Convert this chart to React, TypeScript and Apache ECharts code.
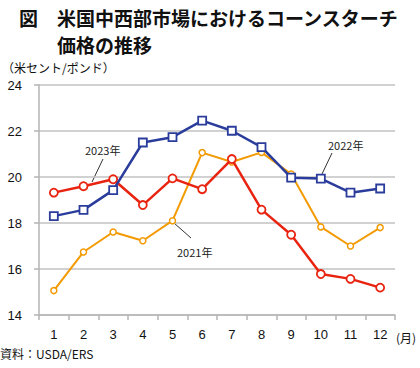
import React, { useEffect, useRef } from "react";
import * as echarts from "echarts";

const months = ["1", "2", "3", "4", "5", "6", "7", "8", "9", "10", "11", "12"];
const y2021 = [15.06, 16.74, 17.61, 17.23, 18.1, 21.06, 20.65, 21.07, 20.13, 17.83, 17.0, 17.8];
const y2022 = [18.3, 18.57, 19.43, 21.5, 21.73, 22.45, 22.01, 21.3, 19.97, 19.93, 19.32, 19.5];
const y2023 = [19.32, 19.6, 19.9, 18.78, 19.94, 19.47, 20.78, 18.58, 17.49, 15.78, 15.57, 15.19];
const yTicks = { min: 14, max: 24, interval: 2 };

const FONT = '"Liberation Sans", "Noto Sans CJK JP", sans-serif';
const CJK = '"Noto Sans CJK JP", "Liberation Sans", sans-serif';
const RED = "#e8230f";
const BLUE = "#2b3d9c";
const ORANGE = "#f39a00";

export default function App() {
  const ref = useRef<HTMLDivElement>(null);
  useEffect(() => {
    if (!ref.current) return;
    const chart = echarts.init(ref.current, null, { renderer: "svg" });
    const lbl = (text: string, x: number, y: number) => ({
      type: "text",
      x,
      y,
      style: { text, font: `11px ${CJK}`, fill: "#222", textVerticalAlign: "middle" },
    });
    const lead = (x1: number, y1: number, x2: number, y2: number) => ({
      type: "line",
      shape: { x1, y1, x2, y2 },
      style: { stroke: "#333", lineWidth: 1 },
    });
    chart.setOption({
      animation: false,
      backgroundColor: "#fff",
      grid: { left: 39, right: 25, top: 85, bottom: 53 },
      xAxis: {
        type: "category",
        data: months,
        boundaryGap: true,
        axisLine: { lineStyle: { color: "#b5b5b5", width: 1.5 } },
        axisTick: { show: true, length: 5, lineStyle: { color: "#b5b5b5", width: 1.5 } },
        axisLabel: { color: "#111", fontSize: 13, fontFamily: FONT, margin: 13 },
        splitLine: { show: false },
      },
      yAxis: {
        type: "value",
        min: yTicks.min,
        max: yTicks.max,
        interval: yTicks.interval,
        axisLine: { show: true, lineStyle: { color: "#b5b5b5", width: 1.5 } },
        axisTick: { show: true, length: 5, lineStyle: { color: "#b5b5b5", width: 1.5 } },
        axisLabel: { color: "#111", fontSize: 13, fontFamily: FONT, margin: 17 },
        splitLine: { show: true, lineStyle: { color: "#c2c2c2", width: 1.5 } },
      },
      series: [
        {
          name: "2021年",
          type: "line",
          data: y2021,
          symbol: "circle",
          symbolSize: 6,
          lineStyle: { color: ORANGE, width: 2 },
          itemStyle: { color: "#fff", borderColor: ORANGE, borderWidth: 1.5 },
          z: 2,
        },
        {
          name: "2023年",
          type: "line",
          data: y2023,
          symbol: "circle",
          symbolSize: 8,
          lineStyle: { color: RED, width: 2.5 },
          itemStyle: { color: "#fff", borderColor: RED, borderWidth: 1.8 },
          z: 3,
        },
        {
          name: "2022年",
          type: "line",
          data: y2022,
          symbol: "rect",
          symbolSize: 8,
          lineStyle: { color: BLUE, width: 2.5 },
          itemStyle: { color: "#fff", borderColor: BLUE, borderWidth: 1.8 },
          z: 4,
        },
      ],
      graphic: [
        {
          type: "text",
          x: 19,
          y: 17,
          style: { text: "図", font: `bold 19px ${CJK}`, fill: "#111", textVerticalAlign: "middle" },
        },
        {
          type: "text",
          x: 57,
          y: 17,
          style: {
            text: "米国中西部市場におけるコーンスターチ",
            font: `bold 19px ${CJK}`,
            fill: "#111",
            textVerticalAlign: "middle",
          },
        },
        {
          type: "text",
          x: 57,
          y: 44,
          style: { text: "価格の推移", font: `bold 19px ${CJK}`, fill: "#111", textVerticalAlign: "middle" },
        },
        {
          type: "text",
          x: 2,
          y: 67,
          style: { text: "（米セント/ポンド）", font: `12px ${CJK}`, fill: "#111", textVerticalAlign: "middle" },
        },
        {
          type: "text",
          x: 396,
          y: 337,
          style: { text: "(月)", font: `12px ${CJK}`, fill: "#111", textVerticalAlign: "middle" },
        },
        {
          type: "text",
          x: 0,
          y: 353,
          style: { text: "資料：USDA/ERS", font: `12px ${CJK}`, fill: "#111", textVerticalAlign: "middle" },
        },
        lbl("2023年", 85, 150),
        lead(103, 159, 92, 182),
        lbl("2022年", 328, 145),
        lead(332, 153, 322, 174),
        lbl("2021年", 177, 252),
        lead(174, 223, 191, 238),
      ],
    });
    return () => chart.dispose();
  }, []);
  return <div ref={ref} style={{ width: 420, height: 368, position: "absolute", left: 0, top: 0 }} />;
}
